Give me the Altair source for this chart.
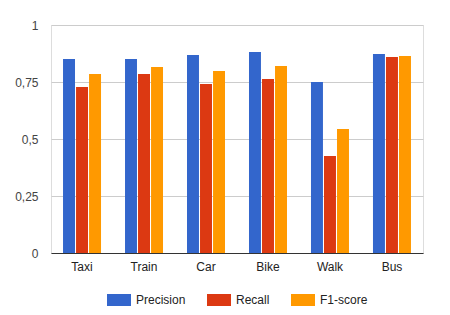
import altair as alt
import pandas as pd

categories = ["Taxi", "Train", "Car", "Bike", "Walk", "Bus"]
series = ["Precision", "Recall", "F1-score"]
precision = [0.851, 0.851, 0.868, 0.882, 0.750, 0.873]
recall = [0.728, 0.785, 0.741, 0.763, 0.425, 0.860]
f1_score = [0.785, 0.816, 0.798, 0.820, 0.544, 0.864]
y_ticks = [0, 0.25, 0.5, 0.75, 1]
colors = ["#3366cc", "#dc3912", "#ff9900"]

rows = []
for name, vals in zip(series, [precision, recall, f1_score]):
    for c, v in zip(categories, vals):
        rows.append({"category": c, "metric": name, "value": v})
df = pd.DataFrame(rows)

FONT = "Liberation Sans"

chart = alt.Chart(df).mark_bar().encode(
    x=alt.X("category:N", sort=categories, title=None,
            scale=alt.Scale(paddingInner=0.387, paddingOuter=0.194),
            axis=alt.Axis(labelAngle=0, ticks=False, domainColor="#333333",
                          domainWidth=1, labelColor="#222222", labelFontSize=12,
                          labelFont=FONT, labelPadding=8, grid=False)),
    xOffset=alt.XOffset("metric:N", sort=series,
                        scale=alt.Scale(paddingInner=0.08, paddingOuter=0)),
    y=alt.Y("value:Q", title=None,
            scale=alt.Scale(domain=[0, 1], nice=False),
            axis=alt.Axis(values=y_ticks, domain=False, ticks=False,
                          gridColor="#cccccc", labelColor="#444444",
                          labelFontSize=12, labelFont=FONT, labelPadding=13,
                          labelExpr="replace(toString(datum.value), '.', ',')")),
    color=alt.Color("metric:N", sort=series,
                    scale=alt.Scale(domain=series, range=colors),
                    legend=alt.Legend(title=None, orient="none", direction="horizontal",
                                      legendX=56, legendY=263,
                                      symbolType="M-1,-0.5H1V0.5H-1Z", symbolSize=576,
                                      symbolStrokeWidth=0, symbolOpacity=1,
                                      labelFont=FONT, labelFontSize=12,
                                      labelColor="#222222", labelOffset=5,
                                      columnPadding=21)),
).properties(
    width=372, height=228,
    autosize=alt.AutoSizeParams(type="none"),
    padding={"left": 43, "top": 17, "right": 19, "bottom": 60},
).configure_view(stroke=None).configure(background="white")

chart.save("out.html", embed_options={"renderer": "svg", "actions": False})
